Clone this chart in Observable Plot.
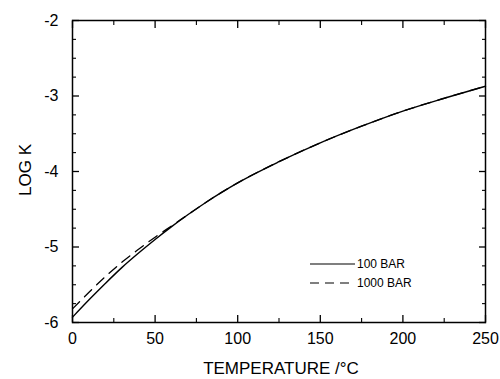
<!DOCTYPE html>
<html>
<head>
<meta charset="utf-8">
<script src="https://cdn.jsdelivr.net/npm/d3@7"></script>
<script src="https://cdn.jsdelivr.net/npm/@observablehq/plot@0.6"></script>
<style>
  html, body { margin: 0; padding: 0; background: #fff; }
  svg { font-family: "Liberation Sans", Arial, sans-serif; }
</style>
</head>
<body>
<div id="chart"></div>
<script>
const temps      = [0, 10, 20, 30, 40, 50, 60, 70, 80, 90, 100, 125, 150, 175, 200, 225, 250];
const logK100    = [-5.93, -5.70, -5.48, -5.27, -5.08, -4.90, -4.73, -4.57, -4.42, -4.28, -4.15, -3.87, -3.62, -3.40, -3.20, -3.03, -2.87];
const logK1000   = [-5.82, -5.60, -5.39, -5.20, -5.03, -4.87, -4.72, -4.57, -4.42, -4.28, -4.15, -3.87, -3.62, -3.40, -3.20, -3.03, -2.87];
const seriesNames = ["100 BAR", "1000 BAR"];
const xMajor = [0, 50, 100, 150, 200, 250];
const xMinor = [25, 75, 125, 175, 225];
const yMajor = [-6, -5, -4, -3, -2];
const yMinor = [-5.75, -5.5, -5.25, -4.75, -4.5, -4.25, -3.75, -3.5, -3.25, -2.75, -2.5, -2.25];

const s100 = temps.map((t, i) => ({T: t, v: logK100[i]}));
const s1000 = temps.map((t, i) => ({T: t, v: logK1000[i]}));

const W = 500, H = 379;
const font = "Liberation Sans, Arial, sans-serif";
const tk = (ticks, anchor, size, sw) =>
  (anchor === "bottom" || anchor === "top" ? Plot.axisX : Plot.axisY)(ticks, {anchor, tickSize: size, text: null, label: null, strokeWidth: sw});

const plot = Plot.plot({
  width: W,
  height: H,
  marginLeft: 72,
  marginRight: 15,
  marginTop: 20,
  marginBottom: 57,
  style: {fontFamily: font, background: "#fff", color: "#000"},
  x: {domain: [0, 250]},
  y: {domain: [-6, -2]},
  marks: [
    Plot.frame({stroke: "#000", strokeWidth: 1.5}),
    tk(xMajor, "bottom", -7, 1.3), tk(xMinor, "bottom", -4, 1.1),
    tk(xMajor, "top", -7, 1.3), tk(xMinor, "top", -4, 1.1),
    tk(yMajor, "left", -7, 1.3), tk(yMinor, "left", -4, 1.1),
    tk(yMajor, "right", -7, 1.3), tk(yMinor, "right", -4, 1.1),
    // tick labels
    Plot.axisX(xMajor, {anchor: "bottom", tickSize: 0, tickPadding: 10, fontSize: 16, tickFormat: d => `${d}`, label: null}),
    Plot.axisY(yMajor, {anchor: "left", tickSize: 0, tickPadding: 14, fontSize: 16, tickFormat: d => `${d}`, label: null}),
    // curves
    Plot.line(s1000, {x: "T", y: "v", stroke: "#000", strokeWidth: 1.3, strokeDasharray: "10,7", curve: "monotone-x"}),
    Plot.line(s100, {x: "T", y: "v", stroke: "#000", strokeWidth: 1.4, curve: "monotone-x"})
  ]
});

const svg = d3.select(plot);
// axis titles
svg.append("text")
  .attr("x", 281).attr("y", 374)
  .attr("text-anchor", "middle")
  .attr("font-size", 17).attr("font-family", font)
  .text("TEMPERATURE /°C");
svg.append("text")
  .attr("transform", "translate(25,170) rotate(-90)")
  .attr("dy", "0.35em")
  .attr("text-anchor", "middle")
  .attr("font-size", 17).attr("font-family", font)
  .text("LOG K");

// legend
const legend = [
  {name: seriesNames[0], dash: null, y: 264},
  {name: seriesNames[1], dash: "9,6", y: 283}
];
legend.forEach(d => {
  svg.append("line")
    .attr("x1", 310).attr("x2", 355).attr("y1", d.y).attr("y2", d.y)
    .attr("stroke", "#000").attr("stroke-width", 1.1)
    .attr("stroke-dasharray", d.dash);
  svg.append("text")
    .attr("x", 357).attr("y", d.y).attr("dy", "0.35em")
    .attr("text-anchor", "start")
    .attr("font-size", 12).attr("font-family", font)
    .text(d.name);
});

document.getElementById("chart").appendChild(plot);
</script>
</body>
</html>
